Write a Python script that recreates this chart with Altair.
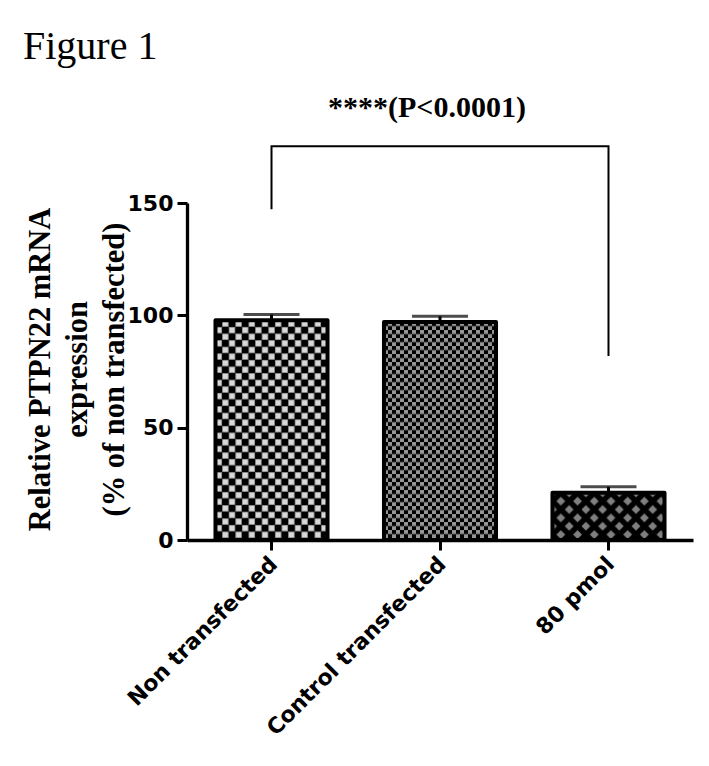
import altair as alt
import pandas as pd
import urllib.parse

# ---------------- data ----------------
groups = ["Non transfected", "Control transfected", "80 pmol"]
means = [97.8, 97.0, 21.0]
sems = [2.6, 2.6, 2.7]
patterns = ["checker_coarse", "checker_fine", "diamond"]

y_ticks = [0, 50, 100, 150]
y_title = ["Relative  PTPN22 mRNA", "expression", "(% of non transfected)"]
fig_title = "Figure 1"
sig_text = "****(P<0.0001)"
sig_group = "Control transfected"
sig_y = 188.3
bracket_groups = ["Non transfected", "Non transfected", "80 pmol", "80 pmol"]
bracket_vals = [147.7, 175.3, 175.3, 82.3]
bracket_order = [0, 1, 2, 3]

# ---------------- fill textures (style) ----------------
def svg_url(inner, tile):
    svg = (
        '<svg xmlns="http://www.w3.org/2000/svg" width="100%" height="100%">'
        '<defs><pattern id="p" x="0" y="0" width="{t}" height="{t}" patternUnits="userSpaceOnUse">'
        '{inner}</pattern></defs>'
        '<rect x="0" y="0" width="100%" height="100%" fill="url(#p)"/></svg>'
    ).format(t=tile, inner=inner)
    return "data:image/svg+xml;charset=utf-8," + urllib.parse.quote(svg)

c = 6.6
tex_coarse = svg_url(
    f'<rect width="{2*c}" height="{2*c}" fill="#000"/>'
    f'<rect x="0" y="{c}" width="{c}" height="{c}" fill="#777"/>'
    f'<rect x="{c}" y="0" width="{c}" height="{c}" fill="#777"/>'
    f'<rect x="0.7" y="{c+0.7}" width="{c-1.4}" height="{c-1.4}" fill="#d8d8d8"/>'
    f'<rect x="{c+0.7}" y="0.7" width="{c-1.4}" height="{c-1.4}" fill="#d8d8d8"/>',
    2 * c,
)
f = 4.0
tex_fine = svg_url(
    f'<rect width="{2*f}" height="{2*f}" fill="#000"/>'
    f'<rect x="0" y="{f}" width="{f}" height="{f}" fill="#959595"/>'
    f'<rect x="{f}" y="0" width="{f}" height="{f}" fill="#959595"/>',
    2 * f,
)
d = 16.7
h = 4.4
def diamond(cx, cy):
    return (f'<polygon points="{cx-h},{cy} {cx},{cy-h} {cx+h},{cy} {cx},{cy+h}" '
            f'fill="#808080"/>')
tex_diamond = svg_url(
    f'<rect width="{d}" height="{d}" fill="#000"/>'
    + diamond(d / 2, d / 2) + diamond(0, 0) + diamond(d, 0) + diamond(0, d) + diamond(d, d),
    d,
)
tex_map = {"checker_coarse": tex_coarse, "checker_fine": tex_fine, "diamond": tex_diamond}

df = pd.DataFrame({"group": groups, "mean": means, "sem": sems,
                   "url": [tex_map[p] for p in patterns]})
df["upper"] = df["mean"] + df["sem"]

bracket_df = pd.DataFrame({"group": bracket_groups, "val": bracket_vals, "ord": bracket_order})
sig_df = pd.DataFrame({"group": [sig_group], "val": [sig_y], "label": [sig_text]})

# ---------------- encodings ----------------
x_scale = alt.Scale(domain=groups, paddingInner=0.335, paddingOuter=0.169)
y_scale = alt.Scale(domain=[0, 150], nice=False, zero=True)

x_enc = alt.X(
    "group:N", sort=groups, scale=x_scale,
    axis=alt.Axis(title=None, labelAngle=-45, labelFontSize=22, labelPadding=3,
                  labelOffset=-5,
                  labelFont="DejaVu Sans", labelFontWeight="bold", labelColor="#000",
                  tickSize=10, tickWidth=3, tickColor="#000",
                  domainColor="#000", domainWidth=3.3, labelLimit=400),
)
y_axis = alt.Axis(
    values=y_ticks, grid=False, title=y_title,
    labelFontSize=22, labelFont="DejaVu Sans", labelFontWeight="bold", labelColor="#000",
    labelPadding=4, tickSize=10, tickWidth=3, tickColor="#000",
    domainColor="#000", domainWidth=3.3,
    titleFont="Liberation Serif", titleFontSize=30.5, titleFontWeight="bold", titleColor="#000",
    titleLineHeight=37, titleAngle=270, titleAlign="center", titleBaseline="middle",
    titleX=-147, titleY=166,
)

base = alt.Chart(df)

under = base.mark_bar(color="#777777").encode(
    x=x_enc, y=alt.Y("mean:Q", scale=y_scale, axis=y_axis)
)
texture = base.mark_image(width=112, aspect=False, clip=True).encode(
    x=x_enc, y=alt.Y("mean:Q", scale=y_scale), y2=alt.datum(0), url="url:N"
)
err = base.mark_rule(color="#000", strokeWidth=3).encode(
    x=x_enc, y=alt.Y("mean:Q", scale=y_scale), y2="upper:Q"
)
cap = base.mark_tick(color="#000", size=56, thickness=3).encode(
    x=x_enc, y=alt.Y("upper:Q", scale=y_scale)
)
outline = base.mark_bar(fillOpacity=0, fill="#000", stroke="#000", strokeWidth=4,
                        strokeJoin="round").encode(
    x=x_enc, y=alt.Y("mean:Q", scale=y_scale)
)
bracket = alt.Chart(bracket_df).mark_line(color="#000", strokeWidth=2, clip=False,
                                          strokeCap="square").encode(
    x=x_enc, y=alt.Y("val:Q", scale=y_scale), order="ord:Q"
)
sig = alt.Chart(sig_df).mark_text(font="Liberation Serif", fontWeight="bold", fontSize=30,
                                  baseline="alphabetic", color="#000", dx=-13).encode(
    x=x_enc, y=alt.Y("val:Q", scale=y_scale), text="label:N"
)

chart = alt.layer(under, texture, err, outline, cap, bracket, sig).properties(
    width=506, height=337,
    background="#ffffff",
    title=alt.TitleParams(fig_title, anchor="start", font="Liberation Serif", fontSize=40,
                          fontWeight="normal", color="#000", dx=-164, dy=-22, frame="group"),
    autosize=alt.AutoSizeParams(type="none"),
    padding={"left": 179, "top": 195, "right": 5, "bottom": 210},
).configure_view(strokeWidth=0)

chart.save("out.html", embed_options={"renderer": "svg", "actions": False})
